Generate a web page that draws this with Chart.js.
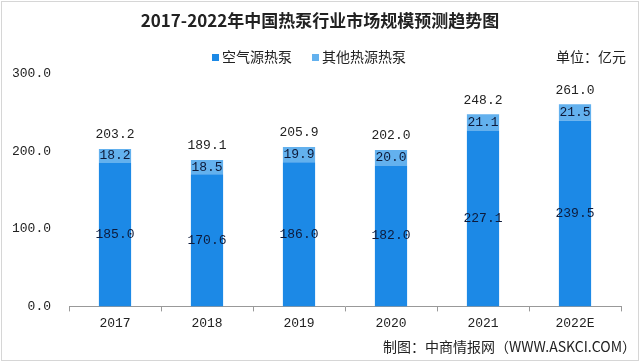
<!DOCTYPE html>
<html>
<head>
<meta charset="utf-8">
<script src="https://cdn.jsdelivr.net/npm/chart.js@4"></script>
<style>
  html, body { margin: 0; padding: 0; background: #fff; }
  #wrap { width: 640px; height: 362px; position: relative; }
</style>
</head>
<body>
<div id="wrap"><canvas id="heatPumpChart" width="640" height="362"></canvas></div>
<script>
// 数据
const years = ['2017', '2018', '2019', '2020', '2021', '2022E'];
const airSource = [185.0, 170.6, 186.0, 182.0, 227.1, 239.5];   // 空气源热泵
const otherSource = [18.2, 18.5, 19.9, 20.0, 21.1, 21.5];       // 其他热源热泵
const totals = [203.2, 189.1, 205.9, 202.0, 248.2, 261.0];
const yTicks = [0, 100, 200, 300];

const seriesNames = ['空气源热泵', '其他热源热泵'];
const seriesColors = ['#1c89e6', '#63b1ee'];

const monoFont = '"Liberation Mono", "DejaVu Sans Mono", monospace';
const cjkFont = '"Noto Sans CJK SC", "Noto Sans", sans-serif';

// labels + title etc.
const decorPlugin = {
    id: 'decor',
    afterDatasetsDraw(chart) {
        const ctx = chart.ctx;
        ctx.save();
        ctx.font = '13px ' + monoFont;
        ctx.textAlign = 'center';
        ctx.textBaseline = 'middle';
        chart.data.datasets.forEach(function(ds, i) {
            const meta = chart.getDatasetMeta(i);
            meta.data.forEach(function(bar, j) {
                const p = bar.getProps(['x', 'y', 'base'], true);
                ctx.fillStyle = '#0d1a3a';
                ctx.fillText(ds.data[j].toFixed(1), p.x, (p.y + p.base) / 2);
                if (i === chart.data.datasets.length - 1) {
                    ctx.fillStyle = '#222';
                    ctx.fillText(totals[j].toFixed(1), p.x, p.y - 14);
                }
            });
        });
        ctx.restore();
    },
    afterDraw(chart) {
        const ctx = chart.ctx;
        ctx.save();
        // frame
        ctx.strokeStyle = '#d6d6d6';
        ctx.lineWidth = 1;
        ctx.strokeRect(1.5, 1.5, 637, 359);

        ctx.fillStyle = '#222';
        ctx.textBaseline = 'middle';
        ctx.textAlign = 'center';
        ctx.font = 'bold 17px ' + cjkFont;
        ctx.fillText('2017-2022年中国热泵行业市场规模预测趋势图', 320, 21);

        // legend
        ctx.font = '14px ' + cjkFont;
        ctx.textAlign = 'left';
        let x = 212;
        seriesNames.forEach(function(name, i) {
            ctx.fillStyle = seriesColors[i];
            ctx.fillRect(x, 54, 7, 7);
            ctx.fillStyle = '#222';
            ctx.fillText(name, x + 10, 57);
            x += 100;
        });

        ctx.textAlign = 'right';
        ctx.fillText('单位：亿元', 626, 57);
        ctx.fillText('制图：中商情报网（WWW.ASKCI.COM）', 636, 347);
        ctx.restore();
    }
};

const ctx = document.getElementById('heatPumpChart').getContext('2d');
new Chart(ctx, {
    type: 'bar',
    data: {
        labels: years,
        datasets: [
            { label: seriesNames[0], data: airSource, backgroundColor: seriesColors[0] },
            { label: seriesNames[1], data: otherSource, backgroundColor: seriesColors[1] }
        ]
    },
    options: {
        responsive: false,
        animation: false,
        layout: { padding: { top: 74, left: 13, right: 19, bottom: 27 } },
        datasets: { bar: { categoryPercentage: 1, barPercentage: 0.35 } },
        plugins: {
            legend: { display: false },
            title: { display: false },
            tooltip: { enabled: false }
        },
        scales: {
            x: {
                stacked: true,
                grid: { drawOnChartArea: false, tickLength: 5, color: '#999' },
                border: { color: '#999' },
                ticks: { color: '#222', font: { family: monoFont, size: 13 }, padding: 4 }
            },
            y: {
                stacked: true,
                min: yTicks[0],
                max: yTicks[yTicks.length - 1],
                afterBuildTicks(axis) { axis.ticks = yTicks.map(v => ({ value: v })); },
                afterFit(axis) { axis.width = 56; },
                grid: { display: false, drawTicks: false, tickLength: 0 },
                border: { display: false },
                ticks: {
                    color: '#222',
                    font: { family: monoFont, size: 13 },
                    padding: 18,
                    callback: v => v.toFixed(1)
                }
            }
        }
    },
    plugins: [decorPlugin]
});
</script>
</body>
</html>
